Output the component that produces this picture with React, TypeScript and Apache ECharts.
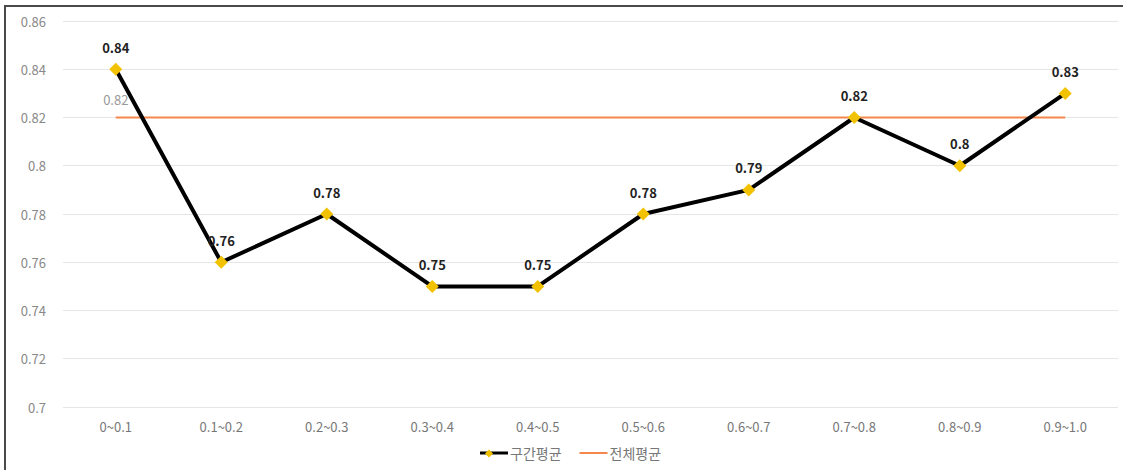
import React, { useEffect, useRef } from "react";
import * as echarts from "echarts";

const categories = ["0~0.1", "0.1~0.2", "0.2~0.3", "0.3~0.4", "0.4~0.5", "0.5~0.6", "0.6~0.7", "0.7~0.8", "0.8~0.9", "0.9~1.0"];
const sectionAvg = [0.84, 0.76, 0.78, 0.75, 0.75, 0.78, 0.79, 0.82, 0.8, 0.83];
const overallAvg = [0.82, 0.82, 0.82, 0.82, 0.82, 0.82, 0.82, 0.82, 0.82, 0.82];
const seriesNames = ["구간평균", "전체평균"];

export default function App() {
  const ref = useRef<HTMLDivElement>(null);
  useEffect(() => {
    if (!ref.current) return;
    const chart = echarts.init(ref.current, null, { renderer: "svg" });
    const font = "'Noto Sans CJK KR', 'Noto Sans', sans-serif";
    const lineIcon = "path://M0,6 L28,6 L28,9 L0,9 Z";
    chart.setOption({
      animation: false,
      backgroundColor: "#ffffff",
      textStyle: { fontFamily: font },
      graphic: [
        { type: "line", shape: { x1: 4, y1: 6, x2: 1123, y2: 6 }, style: { stroke: "#4a4a4a", lineWidth: 2 } },
        { type: "line", shape: { x1: 5, y1: 6, x2: 5, y2: 470 }, style: { stroke: "#4a4a4a", lineWidth: 2 } },
        {
          type: "polygon",
          z: 100,
          shape: { points: [[489, 449.5], [493, 453.5], [489, 457.5], [485, 453.5]] },
          style: { fill: "#f2c200" },
        },
      ],
      grid: { left: 63, right: 5, top: 21, bottom: 63 },
      legend: {
        top: 441,
        left: 475,
        itemWidth: 28,
        itemHeight: 15,
        itemGap: 18,
        textStyle: { color: "#777", fontSize: 14, fontFamily: font, padding: [0, 0, 0, -3] },
        data: [
          { name: seriesNames[0], icon: lineIcon, itemStyle: { color: "#000" } },
          { name: seriesNames[1], icon: "path://M0,6.5 L28,6.5 L28,8.5 L0,8.5 Z", itemStyle: { color: "#f4874b" } },
        ],
      },
      xAxis: {
        type: "category",
        data: categories,
        boundaryGap: true,
        axisLine: { show: false },
        axisTick: { show: false },
        axisLabel: { color: "#777", fontSize: 13, margin: 13, fontFamily: font },
        splitLine: { show: false },
      },
      yAxis: {
        type: "value",
        min: 0.7,
        max: 0.86,
        interval: 0.02,
        axisLine: { show: false },
        axisTick: { show: false },
        axisLabel: { color: "#888", fontSize: 13, margin: 17, fontFamily: font },
        splitLine: { lineStyle: { color: "#e6e6e6", width: 1 } },
      },
      series: [
        {
          name: seriesNames[0],
          type: "line",
          data: sectionAvg,
          symbol: "diamond",
          symbolSize: 13,
          itemStyle: { color: "#f2c200" },
          lineStyle: { color: "#000", width: 4 },
          label: {
            show: true,
            position: "top",
            distance: 9,
            color: "#222",
            fontWeight: "bold",
            fontSize: 13,
            fontFamily: font,
          },
          z: 3,
        },
        {
          name: seriesNames[1],
          type: "line",
          data: overallAvg.map((v, i) =>
            i === 0
              ? { value: v, label: { show: true, position: "top", distance: 11, color: "#999", fontSize: 13, fontFamily: font } }
              : v
          ),
          symbol: "circle",
          symbolSize: 0.1,
          showSymbol: true,
          itemStyle: { color: "#f4874b" },
          lineStyle: { color: "#f4874b", width: 2 },
          z: 2,
        },
      ],
    });
    return () => chart.dispose();
  }, []);
  return (
    <div
      ref={ref}
      style={{ position: "fixed", left: 0, top: 0, width: 1123, height: 470 }}
    />
  );
}
